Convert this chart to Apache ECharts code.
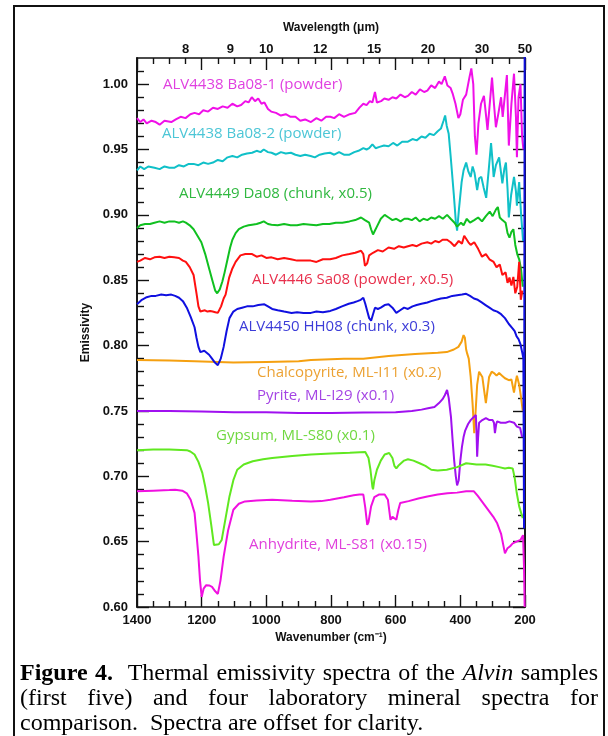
<!DOCTYPE html>
<html>
<head>
<meta charset="utf-8">
<script src="https://cdn.jsdelivr.net/npm/echarts@6/dist/echarts.min.js"></script>
<style>
  body{margin:0;background:#fff;}
  #wrap{position:relative;width:608px;height:736px;overflow:hidden;}
  #main{position:absolute;left:0;top:0;width:608px;height:736px;}
  .frame{position:absolute;left:13px;top:5px;width:588px;height:800px;border:2px solid #111;}
  .cap{position:absolute;left:20px;top:660px;width:578px;font-family:"Liberation Serif",serif;font-size:24px;line-height:25px;color:#000;}
  .j{text-align:justify;text-align-last:justify;white-space:nowrap;}
</style>
</head>
<body>
<div id="wrap">
  <div class="frame"></div>
  <div id="main"></div>
  <div class="cap">
    <div class="j"><b>Figure 4.</b>&nbsp; Thermal emissivity spectra of the <i>Alvin</i> samples</div>
    <div class="j">(first five) and four laboratory mineral spectra for</div>
    <div>comparison.&nbsp; Spectra are offset for clarity.</div>
  </div>
</div>
<script>
// wavenumber (cm-1), emissivity
var ba081 = [[1400,0.974],[1390,0.971],[1380,0.973],[1370,0.970],[1355,0.972],[1342,0.971],[1330,0.969],[1315,0.972],[1294,0.971],[1280,0.973],[1265,0.975],[1250,0.974],[1235,0.977],[1222,0.978],[1208,0.977],[1195,0.980],[1180,0.979],[1165,0.982],[1150,0.981],[1135,0.983],[1120,0.982],[1105,0.985],[1090,0.983],[1078,0.984],[1065,0.987],[1055,0.986],[1045,0.990],[1035,0.987],[1025,0.989],[1015,0.985],[1006,0.986],[995,0.981],[985,0.979],[970,0.978],[955,0.976],[940,0.977],[925,0.975],[910,0.975],[895,0.972],[880,0.973],[862,0.971],[845,0.974],[830,0.972],[815,0.975],[802,0.975],[790,0.974],[775,0.977],[760,0.975],[742,0.977],[725,0.978],[712,0.982],[700,0.985],[690,0.984],[680,0.987],[672,0.986],[664,0.994],[658,0.986],[645,0.987],[635,0.989],[622,0.988],[610,0.990],[598,0.989],[585,0.992],[572,0.990],[562,0.991],[550,0.994],[538,0.992],[525,0.996],[512,0.994],[502,0.995],[490,0.999],[478,0.997],[466,1.002],[458,1.000],[448,1.006],[440,0.999],[430,0.997],[424,0.993],[415,0.985],[406,0.974],[400,0.977],[392,0.988],[382,0.992],[372,1.005],[366,1.012],[360,1.000],[355,0.960],[350,0.946],[344,0.970],[336,0.985],[327,0.991],[320,0.975],[316,0.965],[310,0.982],[302,1.005],[296,0.985],[290,0.967],[282,0.978],[274,0.990],[269,0.975],[262,0.992],[256,1.007],[250,0.953],[242,0.985],[234,1.008],[228,0.975],[225,0.944],[220,0.990],[214,1.000],[209,0.960],[205,0.950]];
var ba082 = [[1400,0.934],[1390,0.937],[1378,0.935],[1365,0.937],[1346,0.936],[1330,0.935],[1315,0.937],[1300,0.936],[1285,0.936],[1270,0.938],[1255,0.937],[1240,0.939],[1225,0.939],[1210,0.938],[1195,0.940],[1180,0.939],[1165,0.940],[1150,0.942],[1135,0.941],[1120,0.944],[1105,0.945],[1090,0.944],[1075,0.946],[1060,0.947],[1044,0.9475],[1030,0.949],[1018,0.948],[1008,0.950],[995,0.948],[984,0.9475],[970,0.946],[955,0.948],[940,0.947],[924,0.9475],[910,0.946],[895,0.945],[880,0.946],[863,0.945],[850,0.944],[835,0.946],[820,0.947],[803,0.9475],[790,0.946],[775,0.948],[760,0.946],[743,0.946],[728,0.948],[715,0.949],[700,0.951],[690,0.950],[682,0.951],[672,0.954],[662,0.951],[650,0.952],[636,0.953],[622,0.9525],[608,0.955],[595,0.953],[580,0.956],[562,0.956],[548,0.958],[535,0.957],[520,0.960],[508,0.959],[495,0.962],[482,0.961],[470,0.964],[460,0.966],[452,0.972],[447,0.976],[442,0.968],[436,0.962],[430,0.945],[420,0.915],[414,0.895],[410,0.888],[404,0.905],[396,0.925],[390,0.934],[382,0.940],[375,0.933],[368,0.929],[362,0.937],[356,0.932],[348,0.919],[342,0.928],[335,0.929],[328,0.921],[320,0.913],[312,0.935],[305,0.955],[300,0.940],[297,0.929],[290,0.938],[280,0.944],[270,0.924],[264,0.935],[259,0.940],[254,0.920],[250,0.898],[243,0.915],[234,0.929],[228,0.918],[225,0.907],[218,0.925],[212,0.900],[206,0.880]];
var da08 = [[1400,0.890],[1390,0.892],[1375,0.893],[1360,0.893],[1346,0.894],[1330,0.895],[1315,0.894],[1300,0.895],[1285,0.895],[1270,0.894],[1258,0.895],[1249,0.894],[1237,0.892],[1225,0.889],[1213,0.884],[1201,0.879],[1189,0.870],[1177,0.859],[1166,0.849],[1158,0.842],[1152,0.840],[1144,0.843],[1136,0.849],[1129,0.856],[1120,0.866],[1112,0.875],[1105,0.881],[1095,0.886],[1085,0.889],[1070,0.891],[1055,0.892],[1044,0.8925],[1030,0.893],[1018,0.894],[1008,0.895],[995,0.893],[984,0.8925],[965,0.892],[945,0.893],[925,0.892],[905,0.892],[885,0.893],[863,0.8925],[845,0.892],[825,0.893],[805,0.893],[785,0.894],[765,0.894],[743,0.895],[725,0.896],[707,0.898],[695,0.896],[682,0.894],[676,0.889],[670,0.885],[664,0.888],[658,0.891],[646,0.897],[634,0.900],[622,0.898],[610,0.896],[598,0.897],[585,0.895],[573,0.897],[562,0.897],[550,0.896],[538,0.898],[526,0.895],[514,0.897],[502,0.896],[490,0.898],[478,0.897],[466,0.899],[454,0.897],[441,0.900],[430,0.897],[418,0.894],[410,0.891],[405,0.890],[398,0.894],[390,0.892],[380,0.897],[370,0.894],[357,0.896],[345,0.898],[333,0.895],[321,0.899],[309,0.9025],[300,0.899],[290,0.904],[284,0.906],[278,0.898],[270,0.896],[260,0.894],[254,0.886],[248,0.8825],[242,0.887],[236,0.889],[230,0.877],[224,0.870],[218,0.866],[212,0.858],[207,0.845]];
var sa08 = [[1400,0.864],[1390,0.865],[1375,0.867],[1360,0.866],[1346,0.8675],[1330,0.868],[1315,0.867],[1300,0.868],[1285,0.8675],[1270,0.867],[1258,0.865],[1249,0.864],[1237,0.860],[1225,0.854],[1216,0.840],[1210,0.830],[1204,0.826],[1198,0.825],[1190,0.827],[1182,0.826],[1174,0.8265],[1166,0.826],[1158,0.8255],[1150,0.825],[1140,0.830],[1132,0.836],[1126,0.839],[1115,0.852],[1105,0.859],[1095,0.864],[1080,0.869],[1065,0.870],[1044,0.870],[1030,0.868],[1015,0.869],[1000,0.867],[984,0.8675],[965,0.866],[945,0.867],[924,0.866],[905,0.865],[885,0.865],[863,0.865],[845,0.864],[825,0.866],[803,0.866],[785,0.867],[765,0.869],[743,0.870],[725,0.871],[707,0.8725],[700,0.870],[695,0.861],[688,0.863],[682,0.869],[670,0.871],[655,0.873],[640,0.872],[622,0.875],[605,0.874],[590,0.876],[575,0.875],[562,0.876],[548,0.877],[535,0.876],[520,0.878],[502,0.879],[490,0.878],[478,0.880],[466,0.879],[455,0.881],[441,0.881],[430,0.879],[418,0.876],[405,0.880],[395,0.878],[388,0.884],[382,0.883],[375,0.879],[368,0.877],[357,0.879],[345,0.874],[333,0.868],[321,0.870],[310,0.866],[297,0.864],[288,0.860],[278,0.862],[270,0.854],[260,0.856],[254,0.848],[248,0.852],[242,0.846],[236,0.8525],[230,0.840],[224,0.845],[218,0.864],[213,0.835],[208,0.842]];
var hh08 = [[1400,0.8316],[1385,0.835],[1370,0.837],[1355,0.838],[1342,0.838],[1325,0.839],[1310,0.8385],[1294,0.839],[1282,0.838],[1270,0.8366],[1258,0.834],[1246,0.829],[1234,0.822],[1222,0.814],[1216,0.806],[1210,0.799],[1204,0.795],[1198,0.794],[1192,0.796],[1186,0.796],[1177,0.793],[1168,0.790],[1159,0.787],[1150,0.785],[1141,0.790],[1132,0.799],[1123,0.811],[1114,0.821],[1102,0.826],[1090,0.828],[1075,0.829],[1060,0.830],[1042,0.830],[1025,0.831],[1006,0.8316],[995,0.830],[982,0.828],[965,0.827],[945,0.826],[922,0.825],[905,0.8255],[885,0.825],[862,0.825],[845,0.826],[825,0.8255],[802,0.8265],[785,0.828],[766,0.830],[745,0.832],[730,0.833],[718,0.834],[708,0.835],[700,0.8366],[694,0.832],[688,0.8265],[682,0.821],[676,0.819],[670,0.824],[664,0.829],[655,0.828],[646,0.829],[634,0.831],[622,0.8316],[610,0.829],[598,0.825],[586,0.827],[574,0.829],[562,0.828],[548,0.830],[535,0.831],[520,0.832],[502,0.833],[490,0.834],[475,0.835],[460,0.836],[442,0.8366],[425,0.838],[410,0.8385],[395,0.839],[382,0.8396],[370,0.838],[358,0.836],[346,0.835],[334,0.833],[322,0.831],[310,0.829],[298,0.827],[286,0.826],[274,0.824],[262,0.821],[250,0.8165],[244,0.818],[238,0.813],[232,0.811],[226,0.807],[220,0.805],[214,0.801],[208,0.794],[205,0.790],[203,0.66],[201,1.03]];
var chalcopyrite = [[1400,0.789],[1300,0.7885],[1222,0.788],[1150,0.7875],[1102,0.787],[1000,0.7875],[900,0.788],[862,0.789],[760,0.790],[700,0.790],[622,0.792],[540,0.7935],[470,0.7945],[442,0.795],[420,0.797],[406,0.799],[396,0.803],[390,0.808],[386,0.806],[382,0.797],[379,0.794],[374,0.790],[368,0.776],[362,0.755],[357,0.733],[354,0.744],[348,0.770],[342,0.780],[337,0.779],[332,0.776],[326,0.765],[321,0.756],[316,0.766],[311,0.776],[303,0.780],[296,0.779],[288,0.777],[280,0.779],[271,0.777],[262,0.775],[250,0.7735],[242,0.774],[234,0.764],[229,0.772],[225,0.777],[218,0.770],[212,0.760],[207,0.750]];
var pyrite = [[1400,0.750],[1300,0.750],[1200,0.7495],[1100,0.749],[1000,0.749],[900,0.7485],[800,0.7485],[700,0.7488],[600,0.749],[550,0.750],[520,0.751],[500,0.752],[480,0.753],[466,0.756],[455,0.759],[448,0.762],[441,0.766],[436,0.760],[429,0.7455],[424,0.728],[419,0.712],[414,0.700],[410,0.693],[405,0.697],[400,0.712],[395,0.7225],[390,0.730],[385,0.735],[376,0.740],[368,0.743],[360,0.745],[352,0.7468],[350,0.735],[348,0.715],[345,0.730],[342,0.741],[332,0.743],[321,0.7445],[310,0.743],[300,0.743],[296,0.741],[293,0.733],[289,0.740],[286,0.742],[275,0.741],[260,0.741],[248,0.742],[234,0.741],[225,0.738],[215,0.737],[209,0.730]];
var gypsum = [[1400,0.720],[1350,0.7205],[1300,0.7205],[1246,0.720],[1235,0.719],[1222,0.7167],[1210,0.711],[1198,0.7026],[1189,0.692],[1180,0.6795],[1170,0.662],[1162,0.6474],[1156,0.6467],[1147,0.648],[1138,0.6513],[1126,0.668],[1114,0.6846],[1102,0.697],[1090,0.705],[1070,0.709],[1042,0.7115],[1010,0.713],[982,0.714],[920,0.7155],[862,0.7167],[800,0.7175],[742,0.718],[694,0.7185],[684,0.714],[678,0.705],[672,0.692],[670,0.690],[666,0.697],[658,0.705],[646,0.712],[634,0.7167],[620,0.7178],[610,0.714],[604,0.708],[598,0.706],[592,0.708],[586,0.709],[574,0.712],[562,0.713],[545,0.712],[526,0.710],[508,0.708],[490,0.705],[470,0.7045],[442,0.705],[410,0.707],[382,0.710],[350,0.709],[322,0.709],[300,0.708],[280,0.707],[262,0.706],[250,0.7065],[238,0.706],[232,0.699],[226,0.688],[218,0.677],[212,0.672],[207,0.668]];
var anhydrite = [[1400,0.6885],[1350,0.689],[1300,0.6895],[1282,0.6897],[1260,0.689],[1246,0.687],[1234,0.682],[1222,0.672],[1216,0.656],[1210,0.6385],[1205,0.620],[1200,0.6077],[1194,0.614],[1186,0.6167],[1177,0.6165],[1168,0.6154],[1158,0.612],[1150,0.610],[1142,0.620],[1132,0.6385],[1118,0.659],[1102,0.6744],[1085,0.679],[1066,0.6808],[1030,0.6815],[982,0.682],[920,0.6812],[862,0.6808],[830,0.681],[802,0.682],[760,0.684],[730,0.6855],[712,0.686],[700,0.686],[694,0.676],[688,0.6628],[684,0.665],[676,0.677],[666,0.684],[652,0.686],[634,0.686],[624,0.682],[616,0.6667],[610,0.669],[604,0.6705],[598,0.6667],[592,0.674],[586,0.6795],[560,0.681],[530,0.683],[502,0.6846],[470,0.686],[440,0.687],[410,0.6875],[382,0.6885],[370,0.6885],[358,0.6885],[346,0.685],[334,0.681],[322,0.677],[310,0.673],[298,0.669],[286,0.664],[274,0.656],[266,0.646],[262,0.641],[254,0.645],[246,0.6465],[238,0.6487],[226,0.650],[214,0.6513],[206,0.655],[203,0.63],[201,0.60]];

// axis ticks
var wavelengthLabels = [8, 9, 10, 12, 15, 20, 30, 50];   // um, top axis
var yMajor = [0.60, 0.65, 0.70, 0.75, 0.80, 0.85, 0.90, 0.95, 1.00];
var yMinor = [0.61,0.62,0.63,0.64,0.66,0.67,0.68,0.69,0.71,0.72,0.73,0.74,0.76,0.77,0.78,0.79,0.81,0.82,0.83,0.84,0.86,0.87,0.88,0.89,0.91,0.92,0.93,0.94,0.96,0.97,0.98,0.99,1.01];

var names = ['ALV4438 Ba08-1 (powder)','ALV4438 Ba08-2 (powder)','ALV4449 Da08 (chunk, x0.5)','ALV4446 Sa08 (powder, x0.5)','ALV4450 HH08 (chunk, x0.3)','Chalcopyrite, ML-I11 (x0.2)','Pyrite, ML-I29 (x0.1)','Gypsum, ML-S80 (x0.1)','Anhydrite, ML-S81 (x0.15)'];
var allData = [ba081, ba082, da08, sa08, hh08, chalcopyrite, pyrite, gypsum, anhydrite];
var drawOrder = [0,1,2,3,5,6,7,8,4];
var lineColors = ['#f010e8','#10c0c8','#10c020','#ff1010','#1010e0','#f5a010','#a010f0','#60e820','#f010e0'];
var textColors = ['#e040e0','#4cc6d6','#30b840','#e8304c','#3c3cd8','#eca234','#a444e4','#70d840','#e040dc'];
var labelPos = [[163,88],[162,137],[179,197],[252,283],[239,330],[257,376],[257,399],[216,439],[249,548]];

var myChart = echarts.init(document.getElementById('main'));
var axisFont = {fontFamily:'Liberation Sans', fontWeight:'bold', fontSize:13, color:'#111'};
var lineStyle = {color:'#111', width:1.6};

function xAx(pos){
  return {
    type:'value', position:pos, min:200, max:1400, interval:200, inverse:true,
    axisLine:{show:true, onZero:false, lineStyle:lineStyle},
    axisTick:{show:true, inside:true, length:12, lineStyle:{color:'#111', width:1.4}},
    minorTick:{show:true, splitNumber:4, length:6, lineStyle:{color:'#111', width:1.4}},
    splitLine:{show:false}, minorSplitLine:{show:false},
    axisLabel:Object.assign({margin:7, formatter:function(v){ return String(v); }}, axisFont),
    nameLocation:'middle',
    nameTextStyle:{fontFamily:'Liberation Sans', fontWeight:'bold', fontSize:12, color:'#111'}
  };
}
var xBottom = xAx('bottom');
xBottom.name = 'Wavenumber (cm\u207B\u00B9)';
xBottom.nameGap = 25;
var xTop = xAx('top');
xTop.name = 'Wavelength (\u03BCm)';
xTop.nameGap = 24;
xTop.axisLabel.customValues = wavelengthLabels.map(function(l){ return 10000 / l; });
xTop.axisLabel.formatter = function(v){ return String(Math.round(10000 / v)); };
xTop.axisLabel.margin = 2;

function yAx(pos, ticks, len, labels){
  return {
    type:'value', position:pos, min:0.6, max:1.02,
    axisLine:{show:true, onZero:false, lineStyle:lineStyle},
    axisTick:{show:true, inside:true, length:len, customValues:ticks, lineStyle:{color:'#111', width:1.4}},
    splitLine:{show:false},
    axisLabel:labels ? Object.assign({margin:9, customValues:yMajor, formatter:function(v){ return v.toFixed(2); }}, axisFont) : {show:false}
  };
}
var yLeft = yAx('left', yMajor, 12, true);
yLeft.name = 'Emissivity';
yLeft.nameLocation = 'middle';
yLeft.nameGap = 43;
yLeft.nameTextStyle = {fontFamily:'Liberation Sans', fontWeight:'bold', fontSize:12, color:'#111'};

var series = drawOrder.map(function(i){
  return {
    name:names[i], type:'line', data:allData[i], xAxisIndex:0, yAxisIndex:0,
    showSymbol:false, symbol:'none', clip:true,
    lineStyle:{color:lineColors[i], width:2}, itemStyle:{color:lineColors[i]}
  };
});

var graphics = names.map(function(n, i){
  return {type:'text', left:labelPos[i][0], top:labelPos[i][1] - 11,
    style:{text:n, fill:textColors[i], font:'15px "Open Sans"'}};
});

var option = {
  animation:false,
  backgroundColor:'transparent',
  grid:{left:137, right:83, top:58, bottom:129},
  xAxis:[xBottom, xTop],
  yAxis:[yLeft, yAx('left', yMinor, 7, false), yAx('right', yMajor, 12, false), yAx('right', yMinor, 7, false)],
  series:series,
  graphic:graphics
};
option && myChart.setOption(option);
</script>
</body>
</html>
